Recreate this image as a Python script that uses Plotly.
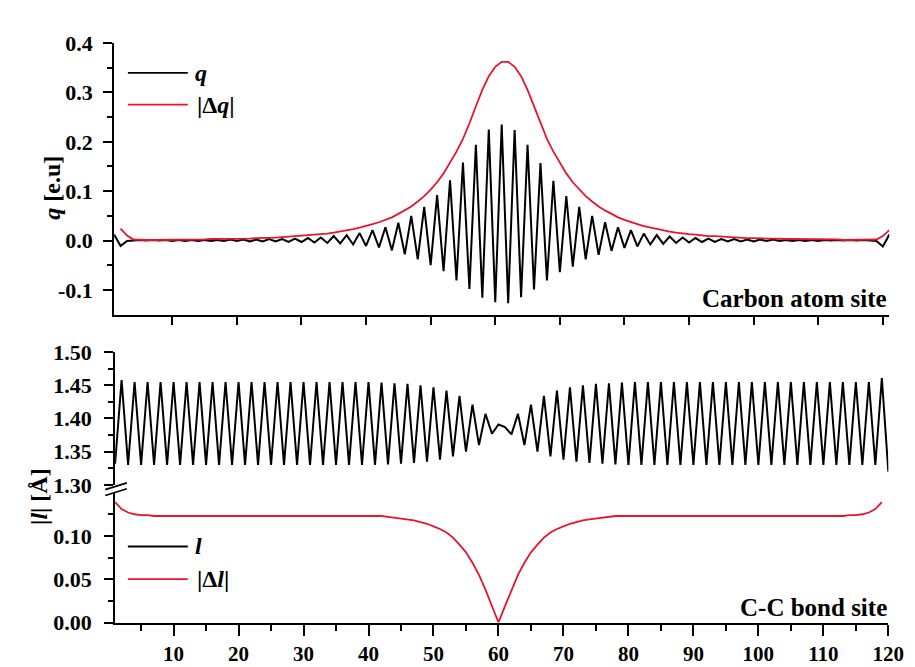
import plotly.graph_objects as go

# ---------------- data ----------------
carbon_sites = list(range(1, 122))          # atom index 1..121
dq_sites = list(range(2, 122))              # |Δq| plotted on 2..121
bond_sites = list(range(1, 121))            # bond index 1..120
dl_sites = list(range(1, 120))              # |Δl| plotted on 1..119

q_values = [
    0.012, -0.011, -0.001, 0.000, 0.001, 0.000, 0.001, 0.000, 0.001, -0.001,
    0.001, -0.001, 0.001, -0.001, 0.001, -0.001, 0.001, -0.001, 0.002, -0.001,
    0.002, -0.002, 0.002, -0.002, 0.003, -0.002, 0.003, -0.003, 0.004, -0.003,
    0.005, -0.004, 0.006, -0.005, 0.009, -0.006, 0.011, -0.008, 0.015, -0.011,
    0.021, -0.014, 0.027, -0.020, 0.036, -0.028, 0.050, -0.038, 0.068, -0.050,
    0.092, -0.062, 0.122, -0.081, 0.158, -0.098, 0.194, -0.116, 0.225, -0.125,
    0.235, -0.127, 0.224, -0.115, 0.194, -0.099, 0.157, -0.081, 0.121, -0.064,
    0.090, -0.053, 0.068, -0.038, 0.050, -0.029, 0.037, -0.021, 0.027, -0.015,
    0.021, -0.012, 0.014, -0.008, 0.011, -0.007, 0.008, -0.005, 0.006, -0.004,
    0.005, -0.003, 0.004, -0.003, 0.003, -0.002, 0.003, -0.002, 0.002, -0.002,
    0.002, -0.001, 0.002, -0.001, 0.001, -0.001, 0.001, -0.001, 0.001, -0.001,
    0.001, 0.000, 0.001, 0.000, 0.001, 0.000, 0.001, 0.000, -0.001, -0.012,
    0.012,
]

dq_values = [
    0.024, 0.010, 0.002, 0.001, 0.001, 0.001, 0.001, 0.001, 0.002, 0.002,
    0.002, 0.002, 0.002, 0.002, 0.003, 0.003, 0.003, 0.003, 0.004, 0.004,
    0.004, 0.005, 0.005, 0.006, 0.006, 0.007, 0.008, 0.009, 0.009, 0.010,
    0.012, 0.013, 0.014, 0.016, 0.018, 0.020, 0.023, 0.026, 0.029, 0.033,
    0.037, 0.042, 0.047, 0.054, 0.061, 0.069, 0.079, 0.090, 0.103, 0.118,
    0.136, 0.157, 0.180, 0.206, 0.237, 0.272, 0.305, 0.333, 0.352, 0.362,
    0.362, 0.352, 0.333, 0.305, 0.272, 0.237, 0.206, 0.180, 0.157, 0.136,
    0.118, 0.103, 0.090, 0.079, 0.069, 0.061, 0.054, 0.047, 0.042, 0.037,
    0.033, 0.029, 0.026, 0.023, 0.020, 0.018, 0.016, 0.014, 0.013, 0.012,
    0.010, 0.009, 0.009, 0.008, 0.007, 0.006, 0.006, 0.005, 0.005, 0.004,
    0.004, 0.004, 0.003, 0.003, 0.003, 0.003, 0.002, 0.002, 0.002, 0.002,
    0.002, 0.002, 0.001, 0.001, 0.001, 0.001, 0.001, 0.002, 0.009, 0.021,
]

l_values = [
    1.332, 1.458, 1.330, 1.455, 1.330, 1.455, 1.330, 1.455, 1.330, 1.455,
    1.330, 1.455, 1.330, 1.455, 1.330, 1.455, 1.330, 1.455, 1.330, 1.455,
    1.330, 1.455, 1.330, 1.455, 1.330, 1.455, 1.330, 1.455, 1.330, 1.455,
    1.330, 1.455, 1.330, 1.455, 1.330, 1.455, 1.330, 1.455, 1.330, 1.455,
    1.330, 1.454, 1.331, 1.453, 1.332, 1.452, 1.333, 1.450, 1.335, 1.447,
    1.338, 1.442, 1.343, 1.434, 1.350, 1.421, 1.360, 1.407, 1.377, 1.391,
    1.387, 1.376, 1.407, 1.360, 1.421, 1.350, 1.434, 1.343, 1.442, 1.338,
    1.447, 1.335, 1.450, 1.333, 1.452, 1.332, 1.453, 1.331, 1.454, 1.330,
    1.455, 1.330, 1.455, 1.330, 1.455, 1.330, 1.455, 1.330, 1.455, 1.330,
    1.455, 1.330, 1.455, 1.330, 1.455, 1.330, 1.455, 1.330, 1.455, 1.330,
    1.455, 1.330, 1.455, 1.330, 1.455, 1.330, 1.455, 1.330, 1.455, 1.330,
    1.455, 1.330, 1.455, 1.330, 1.455, 1.330, 1.455, 1.330, 1.461, 1.320,
]

dl_values = [
    0.139, 0.131, 0.127, 0.125, 0.124, 0.124, 0.123, 0.123, 0.123, 0.123,
    0.123, 0.123, 0.123, 0.123, 0.123, 0.123, 0.123, 0.123, 0.123, 0.123,
    0.123, 0.123, 0.123, 0.123, 0.123, 0.123, 0.123, 0.123, 0.123, 0.123,
    0.123, 0.123, 0.123, 0.123, 0.123, 0.123, 0.123, 0.123, 0.123, 0.123,
    0.123, 0.123, 0.122, 0.121, 0.120, 0.119, 0.118, 0.116, 0.114, 0.111,
    0.108, 0.104, 0.098, 0.090, 0.081, 0.069, 0.055, 0.038, 0.019, 0.000,
    0.019, 0.038, 0.055, 0.069, 0.081, 0.090, 0.098, 0.104, 0.108, 0.111,
    0.114, 0.116, 0.118, 0.119, 0.120, 0.121, 0.122, 0.123, 0.123, 0.123,
    0.123, 0.123, 0.123, 0.123, 0.123, 0.123, 0.123, 0.123, 0.123, 0.123,
    0.123, 0.123, 0.123, 0.123, 0.123, 0.123, 0.123, 0.123, 0.123, 0.123,
    0.123, 0.123, 0.123, 0.123, 0.123, 0.123, 0.123, 0.123, 0.123, 0.123,
    0.123, 0.123, 0.123, 0.124, 0.124, 0.125, 0.127, 0.131, 0.139,
]

x_tick_vals = [10, 20, 30, 40, 50, 60, 70, 80, 90, 100, 110, 120]
x_tick_text = ["10", "20", "30", "40", "50", "60", "70", "80", "90", "100", "110", "120"]
x_minor_vals = [5, 15, 25, 35, 45, 55, 65, 75, 85, 95, 105, 115]

q_tick_vals = [-0.1, 0.0, 0.1, 0.2, 0.3, 0.4]
q_tick_text = ["-0.1", "0.0", "0.1", "0.2", "0.3", "0.4"]
q_minor_vals = [-0.05, 0.05, 0.15, 0.25, 0.35]

l_tick_vals = [1.30, 1.35, 1.40, 1.45, 1.50]
l_tick_text = ["1.30", "1.35", "1.40", "1.45", "1.50"]
l_minor_vals = [1.325, 1.375, 1.425, 1.475]

dl_tick_vals = [0.0, 0.05, 0.10]
dl_tick_text = ["0.00", "0.05", "0.10"]
dl_minor_vals = [0.025, 0.075, 0.125]

# ---------------- figure ----------------
W, H = 915, 667
BLACK = "black"
RED = "#e8142e"
FONT = "Liberation Serif"


def px(p):
    return p / W


def py(p):
    return 1 - p / H


fig = go.Figure()
fig.add_trace(go.Scatter(x=carbon_sites, y=q_values, mode="lines",
                         line=dict(color=BLACK, width=2), xaxis="x", yaxis="y"))
fig.add_trace(go.Scatter(x=dq_sites, y=dq_values, mode="lines",
                         line=dict(color=RED, width=1.8), xaxis="x", yaxis="y"))
fig.add_trace(go.Scatter(x=bond_sites, y=l_values, mode="lines",
                         line=dict(color=BLACK, width=2), xaxis="x2", yaxis="y2"))
fig.add_trace(go.Scatter(x=dl_sites, y=dl_values, mode="lines",
                         line=dict(color=RED, width=1.8), xaxis="x2", yaxis="y3"))

tickfont = dict(family=FONT, size=22, color=BLACK, weight="bold")
common = dict(showline=True, linecolor=BLACK, linewidth=2, ticks="outside",
              tickcolor=BLACK, tickwidth=2, showgrid=False, zeroline=False,
              tickfont=tickfont)


def minor(vals, ln):
    return dict(tickmode="array", tickvals=vals, ticks="outside", ticklen=ln,
                tickcolor=BLACK, tickwidth=1.5, showgrid=False)


fig.update_layout(
    width=W, height=H, margin=dict(l=0, r=0, t=0, b=0),
    paper_bgcolor="white", plot_bgcolor="white", showlegend=False,
    font=dict(family=FONT, color=BLACK),
    xaxis=dict(common, domain=[px(108), px(897)], range=[1, 121], anchor="y",
               tickmode="array", tickvals=x_tick_vals, showticklabels=False, ticklen=8),
    yaxis=dict(common, domain=[py(306), py(24)], range=[-0.15, 0.4], anchor="x",
               tickmode="array", tickvals=q_tick_vals, ticktext=q_tick_text, ticklen=9,
               minor=minor(q_minor_vals, 5), ticklabelstandoff=6),
    xaxis2=dict(common, domain=[px(109), px(896)], range=[1, 120], anchor="y3",
                tickmode="array", tickvals=x_tick_vals, ticktext=x_tick_text, ticklen=11,
                minor=minor(x_minor_vals, 6), ticklabelstandoff=0,
                tickfont=dict(family=FONT, size=21, color=BLACK, weight="bold")),
    yaxis2=dict(common, domain=[py(483), py(345)], range=[1.30, 1.50], anchor="x2",
                tickmode="array", tickvals=l_tick_vals, ticktext=l_tick_text, ticklen=9,
                minor=minor(l_minor_vals, 5), ticklabelstandoff=8),
    yaxis3=dict(common, domain=[py(626), py(491)], range=[0, 0.15], anchor="x2",
                tickmode="array", tickvals=dl_tick_vals, ticktext=dl_tick_text, ticklen=9,
                minor=minor(dl_minor_vals, 5), ticklabelstandoff=8),
)

shapes = []
# legend line samples
for yy, col in [(55, BLACK), (88, RED), (547, BLACK), (581, RED)]:
    shapes.append(dict(type="line", xref="paper", yref="paper",
                       x0=px(122), x1=px(183), y0=py(yy), y1=py(yy),
                       line=dict(color=col, width=1.8)))
# axis break marks
for y0, y1 in [(488, 481), (494, 487)]:
    shapes.append(dict(type="line", xref="paper", yref="paper",
                       x0=px(99), x1=px(121), y0=py(y0), y1=py(y1),
                       line=dict(color=BLACK, width=1.8)))
fig.update_layout(shapes=shapes)


def ann(text, x, y, size, xanchor="center", angle=0):
    return dict(text=text, x=px(x), y=py(y), xref="paper", yref="paper",
                showarrow=False, xanchor=xanchor, yanchor="middle", textangle=angle,
                font=dict(family=FONT, size=size, color=BLACK))


annotations = [
    ann("<b><i>q</i> [e.u]</b>", 45, 174, 24, angle=-90),
    ann("<b>|<i>l</i>| [Å]</b>", 32, 495, 24, angle=-90),
    ann("<b>Carbon atom site</b>", 897, 289, 25, xanchor="right"),
    ann("<b>C-C bond site</b>", 897, 610, 25, xanchor="right"),
    ann("<b><i>q</i></b>", 188, 55, 24, xanchor="left"),
    ann("<b>|Δ<i>q</i>|</b>", 190, 88, 24, xanchor="left"),
    ann("<b><i>l</i></b>", 188, 547, 24, xanchor="left"),
    ann("<b>|Δ<i>l</i>|</b>", 190, 581, 24, xanchor="left"),
]
fig.update_layout(annotations=annotations)

fig.write_html("out.html")
